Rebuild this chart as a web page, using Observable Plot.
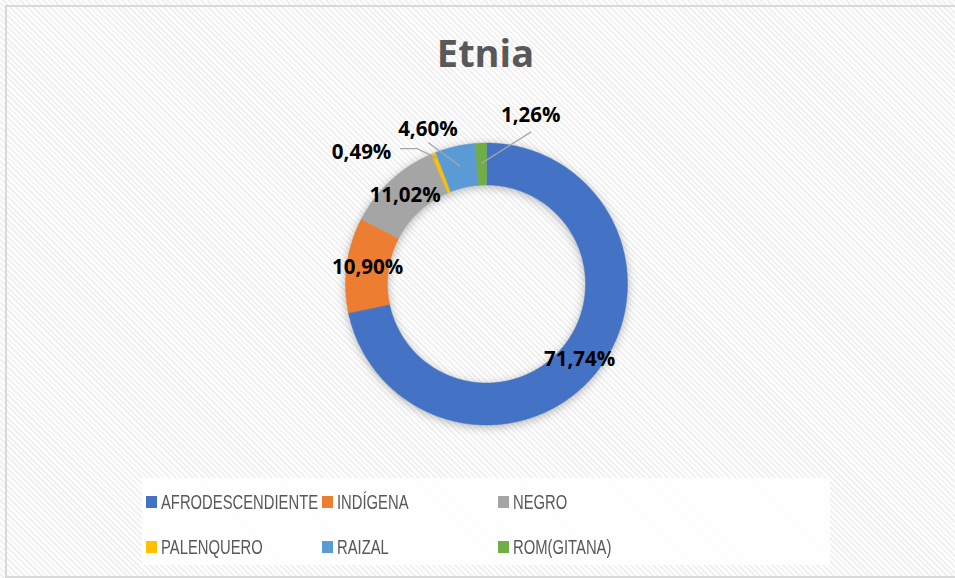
<!DOCTYPE html>
<html>
<head>
<meta charset="utf-8">
<script src="https://cdn.jsdelivr.net/npm/d3@7"></script>
<script src="https://cdn.jsdelivr.net/npm/@observablehq/plot@0.6"></script>
<style>
  html, body { margin: 0; padding: 0; background: #fff; overflow: hidden; }
  #chart {
    position: relative; width: 955px; height: 578px; overflow: hidden;
    background: repeating-linear-gradient(45deg, #ffffff 0px, #ffffff 2px, #f1f1f1 2px, #f1f1f1 4px);
  }
  #frame { position: absolute; left: 5px; top: 5px; width: 1000px; height: 569px; border: 2px solid #d9d9d9; }
  #title {
    position: absolute; left: 8px; top: 33px; width: 955px; text-align: center;
    font-family: "Open Sans", sans-serif; font-weight: bold; font-size: 38px; line-height: 38px; color: #595959;
  }
  #plot { position: absolute; left: 0; top: 90px; }
  #plot svg g[aria-label="line"]:first-of-type { filter: drop-shadow(0px 2px 5px rgba(0,0,0,0.28)); }
  #legend {
    position: absolute; left: 142px; top: 478px; width: 688px; height: 87px;
    background: rgba(255,255,255,0.85);
  }
  .li { position: absolute; font-family: "Liberation Sans", Arial, sans-serif; font-size: 20px; line-height: 20px; color: #595959; white-space: nowrap; transform: scaleX(0.74); transform-origin: 0 0; }
  .sw { position: absolute; width: 11px; height: 12px; }
</style>
</head>
<body>
<div id="chart">
  <div id="frame"></div>
  <div id="title">Etnia</div>
  <div id="plot"></div>
  <div id="legend"></div>
</div>
<script>
// ---- data ----
const categories = ["AFRODESCENDIENTE", "INDÍGENA", "NEGRO", "PALENQUERO", "RAIZAL", "ROM(GITANA)"];
const values = [71.74, 10.90, 11.02, 0.49, 4.60, 1.26];
const colors = ["#4472C4", "#ED7D31", "#A5A5A5", "#FFC000", "#5B9BD5", "#70AD47"];

// ---- layout ----
const R_OUT = 141, R_IN = 99, R_LABEL = 120;
const W = 955, H = 380, CX = 486, CY = 193.5;
// pixel shifts of labels moved outside the ring (screen px, y down)
const labelShift = [[0, 0], [0, 0], [0, 0], [-80, -20], [-32, -38], [49, -49]];
// leader lines: via points relative to label (screen px), end radius on slice mid-angle
const leaders = { 3: { via: [[39, -4], [56, -4]], r: 136 }, 4: { via: [[1, 14]], r: 121 }, 5: { via: [[0, 17]], r: 121 } };

const total = d3.sum(values);
let acc = 0;
const slices = categories.map((c, i) => {
  const a0 = acc / total * 2 * Math.PI;
  acc += values[i];
  const a1 = acc / total * 2 * Math.PI;
  return { c, i, a0, a1, mid: (a0 + a1) / 2 };
});
const pt = (r, a) => [r * Math.sin(a), r * Math.cos(a)];

const ring = [];
for (const s of slices) {
  const n = Math.max(2, Math.ceil((s.a1 - s.a0) / (Math.PI / 360)));
  for (let k = 0; k <= n; k++) { const [x, y] = pt(R_OUT, s.a0 + (s.a1 - s.a0) * k / n); ring.push({ cat: s.c, x, y }); }
  for (let k = n; k >= 0; k--) { const [x, y] = pt(R_IN, s.a0 + (s.a1 - s.a0) * k / n); ring.push({ cat: s.c, x, y }); }
}

const fmt = v => v.toFixed(2).replace(".", ",") + "%";
const labels = slices.map(s => {
  const [x, y] = pt(R_LABEL, s.mid);
  return { x: x + labelShift[s.i][0], y: y - labelShift[s.i][1], text: fmt(values[s.i]), i: s.i };
});

const leaderPts = [];
for (const [k, L] of Object.entries(leaders)) {
  const lab = labels[+k];
  for (const [dx, dy] of L.via) leaderPts.push({ id: k, x: lab.x + dx, y: lab.y - dy });
  const [ex, ey] = pt(L.r, slices[+k].mid);
  leaderPts.push({ id: k, x: ex, y: ey });
}

const plot = Plot.plot({
  width: W, height: H,
  margin: 0,
  x: { domain: [-CX, W - CX], axis: null },
  y: { domain: [CY - H, CY], axis: null },
  color: { domain: categories, range: colors },
  style: "background: transparent; overflow: visible; font-family: 'Open Sans', sans-serif;",
  marks: [
    Plot.line(ring, { x: "x", y: "y", z: "cat", fill: "cat", stroke: "cat", strokeWidth: 0.5, curve: "linear-closed" }),
    Plot.line(leaderPts, { x: "x", y: "y", z: "id", stroke: "#a6a6a6", strokeWidth: 1.3 }),
    Plot.text(labels, { x: "x", y: "y", text: "text", fontSize: 20.5, fontWeight: "bold", fill: "#000" })
  ]
});
document.getElementById("plot").appendChild(plot);

// ---- legend ----
const legend = document.getElementById("legend");
const colX = [4, 180, 356];
const rowTop = [18, 63];
categories.forEach((c, i) => {
  const col = i % 3, row = Math.floor(i / 3);
  const sw = document.createElement("div");
  sw.className = "sw";
  sw.style.left = colX[col] + "px";
  sw.style.top = rowTop[row] + "px";
  sw.style.background = colors[i];
  legend.appendChild(sw);
  const t = document.createElement("div");
  t.className = "li";
  t.style.left = (colX[col] + 15) + "px";
  t.style.top = (rowTop[row] - 4) + "px";
  t.textContent = c;
  legend.appendChild(t);
});
</script>
</body>
</html>
